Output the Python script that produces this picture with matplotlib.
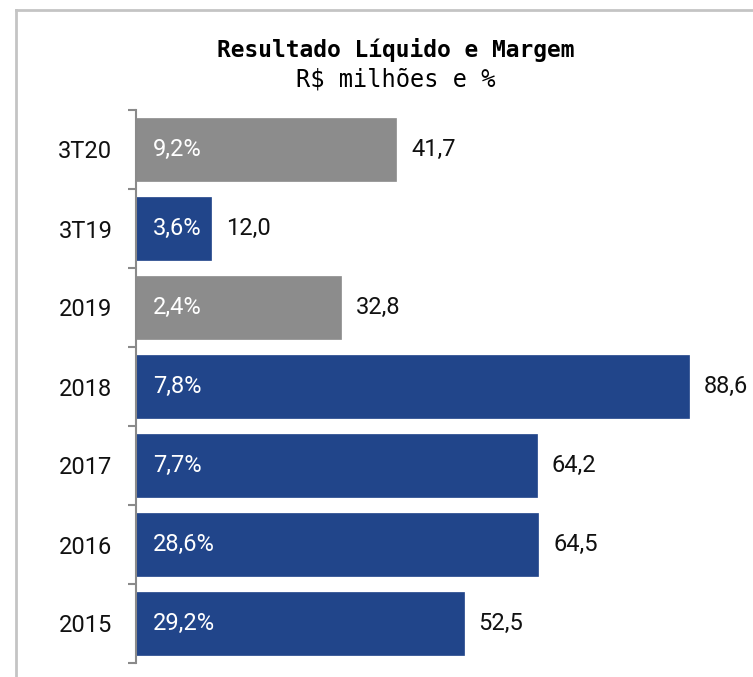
# Resultado Liquido e Margem - R$ milhoes e %
import matplotlib.pyplot as plt

# dados (de baixo para cima)
periodos = ["2015", "2016", "2017", "2018", "2019", "3T19", "3T20"]
resultado = [52.5, 64.5, 64.2, 88.6, 32.8, 12.0, 41.7]
margem = [29.2, 28.6, 7.7, 7.8, 2.4, 3.6, 9.2]
cinzas = ["2019", "3T20"]

azul = "#21458a"
cinza = "#8c8c8c"
cores = [cinza if p in cinzas else azul for p in periodos]

def br(v, pct=False):
    s = f"{v:.1f}".replace(".", ",")
    return s + "%" if pct else s

fig = plt.figure(figsize=(7.53, 6.77), dpi=100)

# moldura cinza (topo e esquerda)
W, H = 753, 677
fig.add_artist(plt.Line2D([16 / W, 1], [1 - 10 / H, 1 - 10 / H], color="#c4c4c4", lw=2))
fig.add_artist(plt.Line2D([16 / W, 16 / W], [0, 1 - 10 / H], color="#c4c4c4", lw=2))

ax = fig.add_axes([136 / W, 1 - 663 / H, (738 - 136) / W, (663 - 110) / H])
y = list(range(len(periodos)))
ax.barh(y, resultado, height=0.81, color=cores, edgecolor=cores, linewidth=0.5)
ax.set_xlim(0, 96.5)
ax.set_ylim(-0.5, len(periodos) - 0.5)

for yi, v, m in zip(y, resultado, margem):
    ax.text(v + 2.4, yi, br(v), va="center", ha="left", fontsize=17,
            family="Roboto", color="#111111")
    ax.text(2.7, yi, br(m, True), va="center", ha="left", fontsize=17,
            family="Roboto", color="white")

for s in ["top", "right", "bottom"]:
    ax.spines[s].set_visible(False)
ax.spines["left"].set_color("#8a8a8a")
ax.spines["left"].set_linewidth(1.5)
ax.set_xticks([])
ax.set_yticks(y)
ax.set_yticklabels(periodos, fontsize=17, family="Roboto", color="#111111")
ax.tick_params(axis="y", which="major", length=0, pad=17)
ax.set_yticks([i - 0.5 for i in range(len(periodos) + 1)], minor=True)
ax.tick_params(axis="y", which="minor", length=6, width=1.5, color="#8a8a8a")

fig.text(396 / W, 1 - 50 / H, "Resultado Líquido e Margem", ha="center", va="center",
         fontsize=16.5, fontweight="bold", family="DejaVu Sans Mono")
fig.text(396 / W, 1 - 80 / H, "R$ milhões e %", ha="center", va="center",
         fontsize=17, family="DejaVu Sans Mono")

plt.savefig("out.png", dpi=100)
